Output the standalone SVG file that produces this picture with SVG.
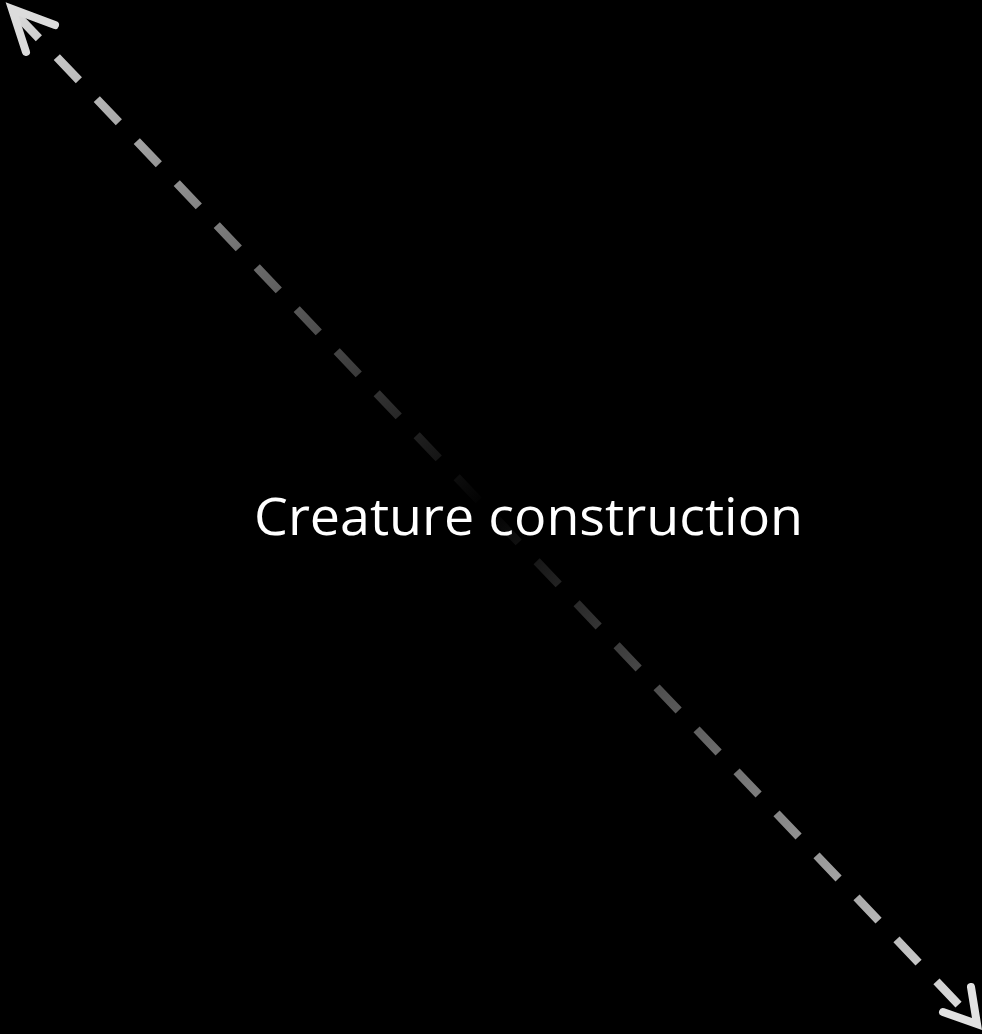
<svg xmlns="http://www.w3.org/2000/svg" width="982" height="1034" viewBox="0 0 982 1034">
<defs>
<linearGradient id="g" gradientUnits="userSpaceOnUse" x1="10" y1="8" x2="978" y2="1025">
<stop offset="0" stop-color="#dcdcdc"/>
<stop offset="0.49" stop-color="#000"/>
<stop offset="1" stop-color="#e2e2e2"/>
</linearGradient>
<style>
.conn{fill:none;stroke:url(#g);stroke-width:8.5}
.head{fill:none;stroke-width:8;stroke-linecap:round;stroke-linejoin:miter}
.lbl{font-family:"Open Sans","Noto Sans",sans-serif;font-size:51px;fill:#fff}
</style>
</defs>
<rect width="982" height="1034" fill="#000"/>
<g id="connectors">
<line class="conn" x1="12" y1="10" x2="977" y2="1024" stroke-dasharray="32 26" stroke-dashoffset="51"/>
<path class="head" stroke="#dcdcdc" d="M55,25 L12,9 L26,52"/>
<path class="head" stroke="#e2e2e2" d="M943,1012 L977,1024 L971,987"/>
</g>
<g id="label">
<text class="lbl" x="254" y="535" textLength="549" lengthAdjust="spacingAndGlyphs">Creature construction</text>
</g>
</svg>
